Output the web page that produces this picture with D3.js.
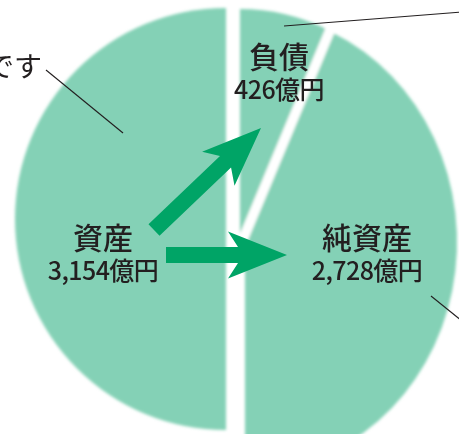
<!DOCTYPE html>
<html><head><meta charset="utf-8">
<script src="https://cdn.jsdelivr.net/npm/d3@7"></script>
<style>html,body{margin:0;padding:0;background:#fff;overflow:hidden} svg{display:block}</style>
</head><body><svg id="c" width="459" height="434"></svg>
<script>
// ---- data ----
const categories = ["資産", "負債", "純資産"];
const values = [3154, 426, 2728];
const unit = "億円";
const note = "です";

// ---- layout ----
const svg = d3.select("#c");
const fillLight = "#84d1b6";
const arrowCol = "#00a466";
const ink = "#231f20";

const defs = svg.append("defs");
defs.append("filter").attr("id", "soft")
  .attr("x", "-10%").attr("y", "-10%").attr("width", "120%").attr("height", "120%")
  .append("feGaussianBlur").attr("stdDeviation", 1.8);

const angle = d3.scaleLinear().domain([0, values[0]]).range([0, Math.PI]);

const leftC = [226, 219], leftR = 211;
const rightC = [244, 240], rightRx = 212, rightRy = 230;
const k = rightRy / rightRx;

const arc = d3.arc().innerRadius(0);
const pies = svg.append("g").attr("filter", "url(#soft)");

// 資産 (left half)
pies.append("path")
  .attr("transform", `translate(${leftC[0]},${leftC[1]})`)
  .attr("fill", fillLight)
  .attr("d", arc({outerRadius: leftR, startAngle: -angle(values[0]), endAngle: 0}));

// 負債 / 純資産 (right half)
const rightSlices = [
  {name: categories[1], start: 0, end: angle(values[1]), off: [-4, -1]},
  {name: categories[2], start: angle(values[1]), end: angle(values[1] + values[2]), off: [1, 2]}
];
pies.selectAll("path.r").data(rightSlices).join("path")
  .attr("class", "r")
  .attr("transform", d => `translate(${rightC[0] + d.off[0]},${rightC[1] + d.off[1]}) scale(1,${k})`)
  .attr("fill", fillLight)
  .attr("d", d => arc({outerRadius: rightRx, startAngle: d.start, endAngle: d.end}));

// white separating band between 負債 and 純資産
const th = angle(values[1]);
const o = [rightC[0] + (rightSlices[0].off[0] + rightSlices[1].off[0]) / 2,
           rightC[1] + (rightSlices[0].off[1] + rightSlices[1].off[1]) / 2];
const dir = [Math.sin(th), -k * Math.cos(th)];
const dl = Math.hypot(dir[0], dir[1]);
pies.append("line")
  .attr("x1", o[0]).attr("y1", o[1])
  .attr("x2", o[0] + dir[0] / dl * 280).attr("y2", o[1] + dir[1] / dl * 280)
  .attr("stroke", "#fff").attr("stroke-width", 10);

// ---- arrows ----
function arrowPath(L) {
  const sw = 8, hl = 59, hw = 23.5, nl = 49;
  return d3.line()([[0, -sw], [L - nl, -sw], [L - hl, -hw], [L, 0], [L - hl, hw], [L - nl, sw], [0, sw]]) + "Z";
}
const arrows = [
  {from: [154, 230], to: [261, 128]},
  {from: [166, 255], to: [287, 255]}
];
svg.selectAll("path.arrow").data(arrows).join("path")
  .attr("class", "arrow")
  .attr("fill", arrowCol)
  .attr("transform", d => {
    const a = Math.atan2(d.to[1] - d.from[1], d.to[0] - d.from[0]) * 180 / Math.PI;
    return `translate(${d.from[0]},${d.from[1]}) rotate(${a})`;
  })
  .attr("d", d => arrowPath(Math.hypot(d.to[0] - d.from[0], d.to[1] - d.from[1])));

// ---- leader lines ----
const leaders = [
  [[46, 70], [123, 133]],
  [[284, 26], [462, 12]],
  [[431, 296], [462, 321]]
];
svg.selectAll("line.leader").data(leaders).join("line")
  .attr("class", "leader")
  .attr("x1", d => d[0][0]).attr("y1", d => d[0][1])
  .attr("x2", d => d[1][0]).attr("y2", d => d[1][1])
  .attr("stroke", ink).attr("stroke-width", 1.1);

// ---- labels ----
const fmt = d3.format(",");
const labelPos = [
  {x: 103, y1: 249, y2: 280},
  {x: 279, y1: 68, y2: 99},
  {x: 367, y1: 249, y2: 280}
];
const font = "'Noto Sans CJK JP', 'Noto Sans', sans-serif";
const lg = svg.append("g").attr("fill", ink).attr("text-anchor", "middle")
  .style("font-family", font).style("font-weight", 500);
categories.forEach((c, i) => {
  lg.append("text").attr("x", labelPos[i].x).attr("y", labelPos[i].y1)
    .style("font-size", "30px").text(c);
  lg.append("text").attr("x", labelPos[i].x).attr("y", labelPos[i].y2)
    .style("font-size", "25px").style("letter-spacing", "-0.6px").text(fmt(values[i]) + unit);
});

svg.append("text").attr("x", 42).attr("y", 77).attr("text-anchor", "end")
  .attr("fill", ink).style("font-family", font).style("font-size", "28px").text(note);
</script>
</body></html>
